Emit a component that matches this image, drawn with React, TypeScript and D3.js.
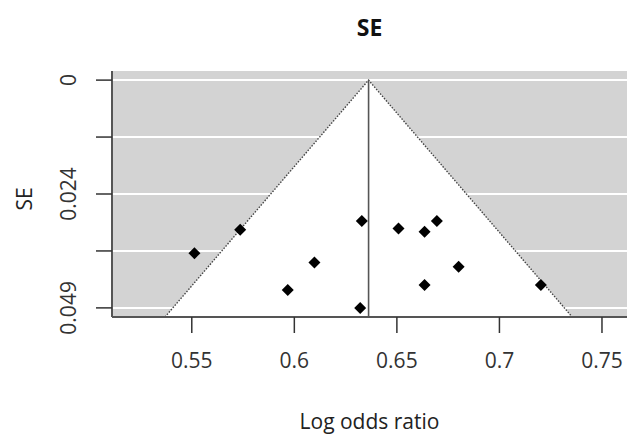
import React from "react";
import * as d3 from "d3";

// Study data
const logOddsRatio = [0.5513, 0.5736, 0.5968, 0.6098, 0.6329, 0.6321, 0.6508, 0.6635, 0.6695, 0.6801, 0.6635, 0.7202];
const standardError = [0.0370, 0.0320, 0.0449, 0.0390, 0.0301, 0.0487, 0.0317, 0.0324, 0.0301, 0.0399, 0.0438, 0.0438];
const pooledEstimate = 0.6362;
const zCrit = 1.96;

const xTicks = [0.55, 0.6, 0.65, 0.7, 0.75];
const xTickLabels = ["0.55", "0.6", "0.65", "0.7", "0.75"];
const yTickLabels = ["0", "", "0.024", "", "0.049"];

const title = "SE";
const xLabel = "Log odds ratio";
const yLabel = "SE";

const W = 632;
const H = 436;
const font = "'Open Sans', 'Noto Sans', sans-serif";

export default function App() {
  const plotL = 112, plotR = 627, plotT = 71, plotB = 317;
  const maxSE = d3.max(standardError) as number;
  const x = d3.scaleLinear().domain([0.5111, 0.7622]).range([plotL, plotR]);
  const y = d3.scaleLinear().domain([-0.04 * maxSE, 1.04 * maxSE]).range([plotT, plotB]);
  const yTicks = d3.range(5).map((i) => (maxSE * i) / 4);
  const seBottom = y.invert(plotB);
  const cx = (plotL + plotR) / 2;

  const funnel: [number, number][] = [
    [x(pooledEstimate - zCrit * seBottom), y(seBottom)],
    [x(pooledEstimate), y(0)],
    [x(pooledEstimate + zCrit * seBottom), y(seBottom)],
  ];
  const line = d3.line();
  const diamond = d3.symbol(d3.symbolSquare, 72)();

  return (
    <svg
      width={W}
      height={H}
      style={{ display: "block", background: "#fff", position: "fixed", left: 0, top: 0 }}
    >
      <rect x={plotL} y={plotT} width={plotR - plotL} height={plotB - plotT} fill="#d3d3d3" />
      {yTicks.map((t, i) => (
        <line key={i} x1={plotL} x2={plotR} y1={y(t)} y2={y(t)} stroke="#fff" strokeWidth={2} />
      ))}
      <path d={line(funnel) + "Z"} fill="#fff" />
      <path d={line(funnel) || ""} fill="none" stroke="#444" strokeWidth={1.4} strokeDasharray="1.5 1.5" />
      <line x1={x(pooledEstimate)} x2={x(pooledEstimate)} y1={y(0)} y2={plotB} stroke="#555" strokeWidth={1.6} />
      {logOddsRatio.map((v, i) => (
        <path key={i} d={diamond || ""} transform={`translate(${x(v)},${y(standardError[i])}) rotate(45)`} fill="#000" />
      ))}
      {/* axes */}
      <line x1={plotL} x2={plotL} y1={plotT} y2={plotB} stroke="#555" strokeWidth={2} />
      <line x1={plotL} x2={plotR} y1={plotB} y2={plotB} stroke="#555" strokeWidth={2} />
      {yTicks.map((t, i) => (
        <g key={i}>
          <line x1={plotL - 16} x2={plotL} y1={y(t)} y2={y(t)} stroke="#333" strokeWidth={1.5} />
          {yTickLabels[i] && (
            <text transform={`translate(76,${y(t)}) rotate(-90)`} textAnchor="middle" fontFamily={font} fontSize={21} fill="#333">
              {yTickLabels[i]}
            </text>
          )}
        </g>
      ))}
      {xTicks.map((t, i) => (
        <g key={i}>
          <line x1={x(t)} x2={x(t)} y1={plotB} y2={plotB + 16} stroke="#333" strokeWidth={1.5} />
          <text x={x(t)} y={368} textAnchor="middle" fontFamily={font} fontSize={21} fill="#333">
            {xTickLabels[i]}
          </text>
        </g>
      ))}
      <text x={cx} y={36} textAnchor="middle" fontFamily={font} fontSize={23} fontWeight="bold" fill="#111">{title}</text>
      <text x={cx} y={429} textAnchor="middle" fontFamily={font} fontSize={21} fill="#222">{xLabel}</text>
      <text transform={`translate(32,199) rotate(-90)`} textAnchor="middle" fontFamily={font} fontSize={21} fill="#222">{yLabel}</text>
    </svg>
  );
}
